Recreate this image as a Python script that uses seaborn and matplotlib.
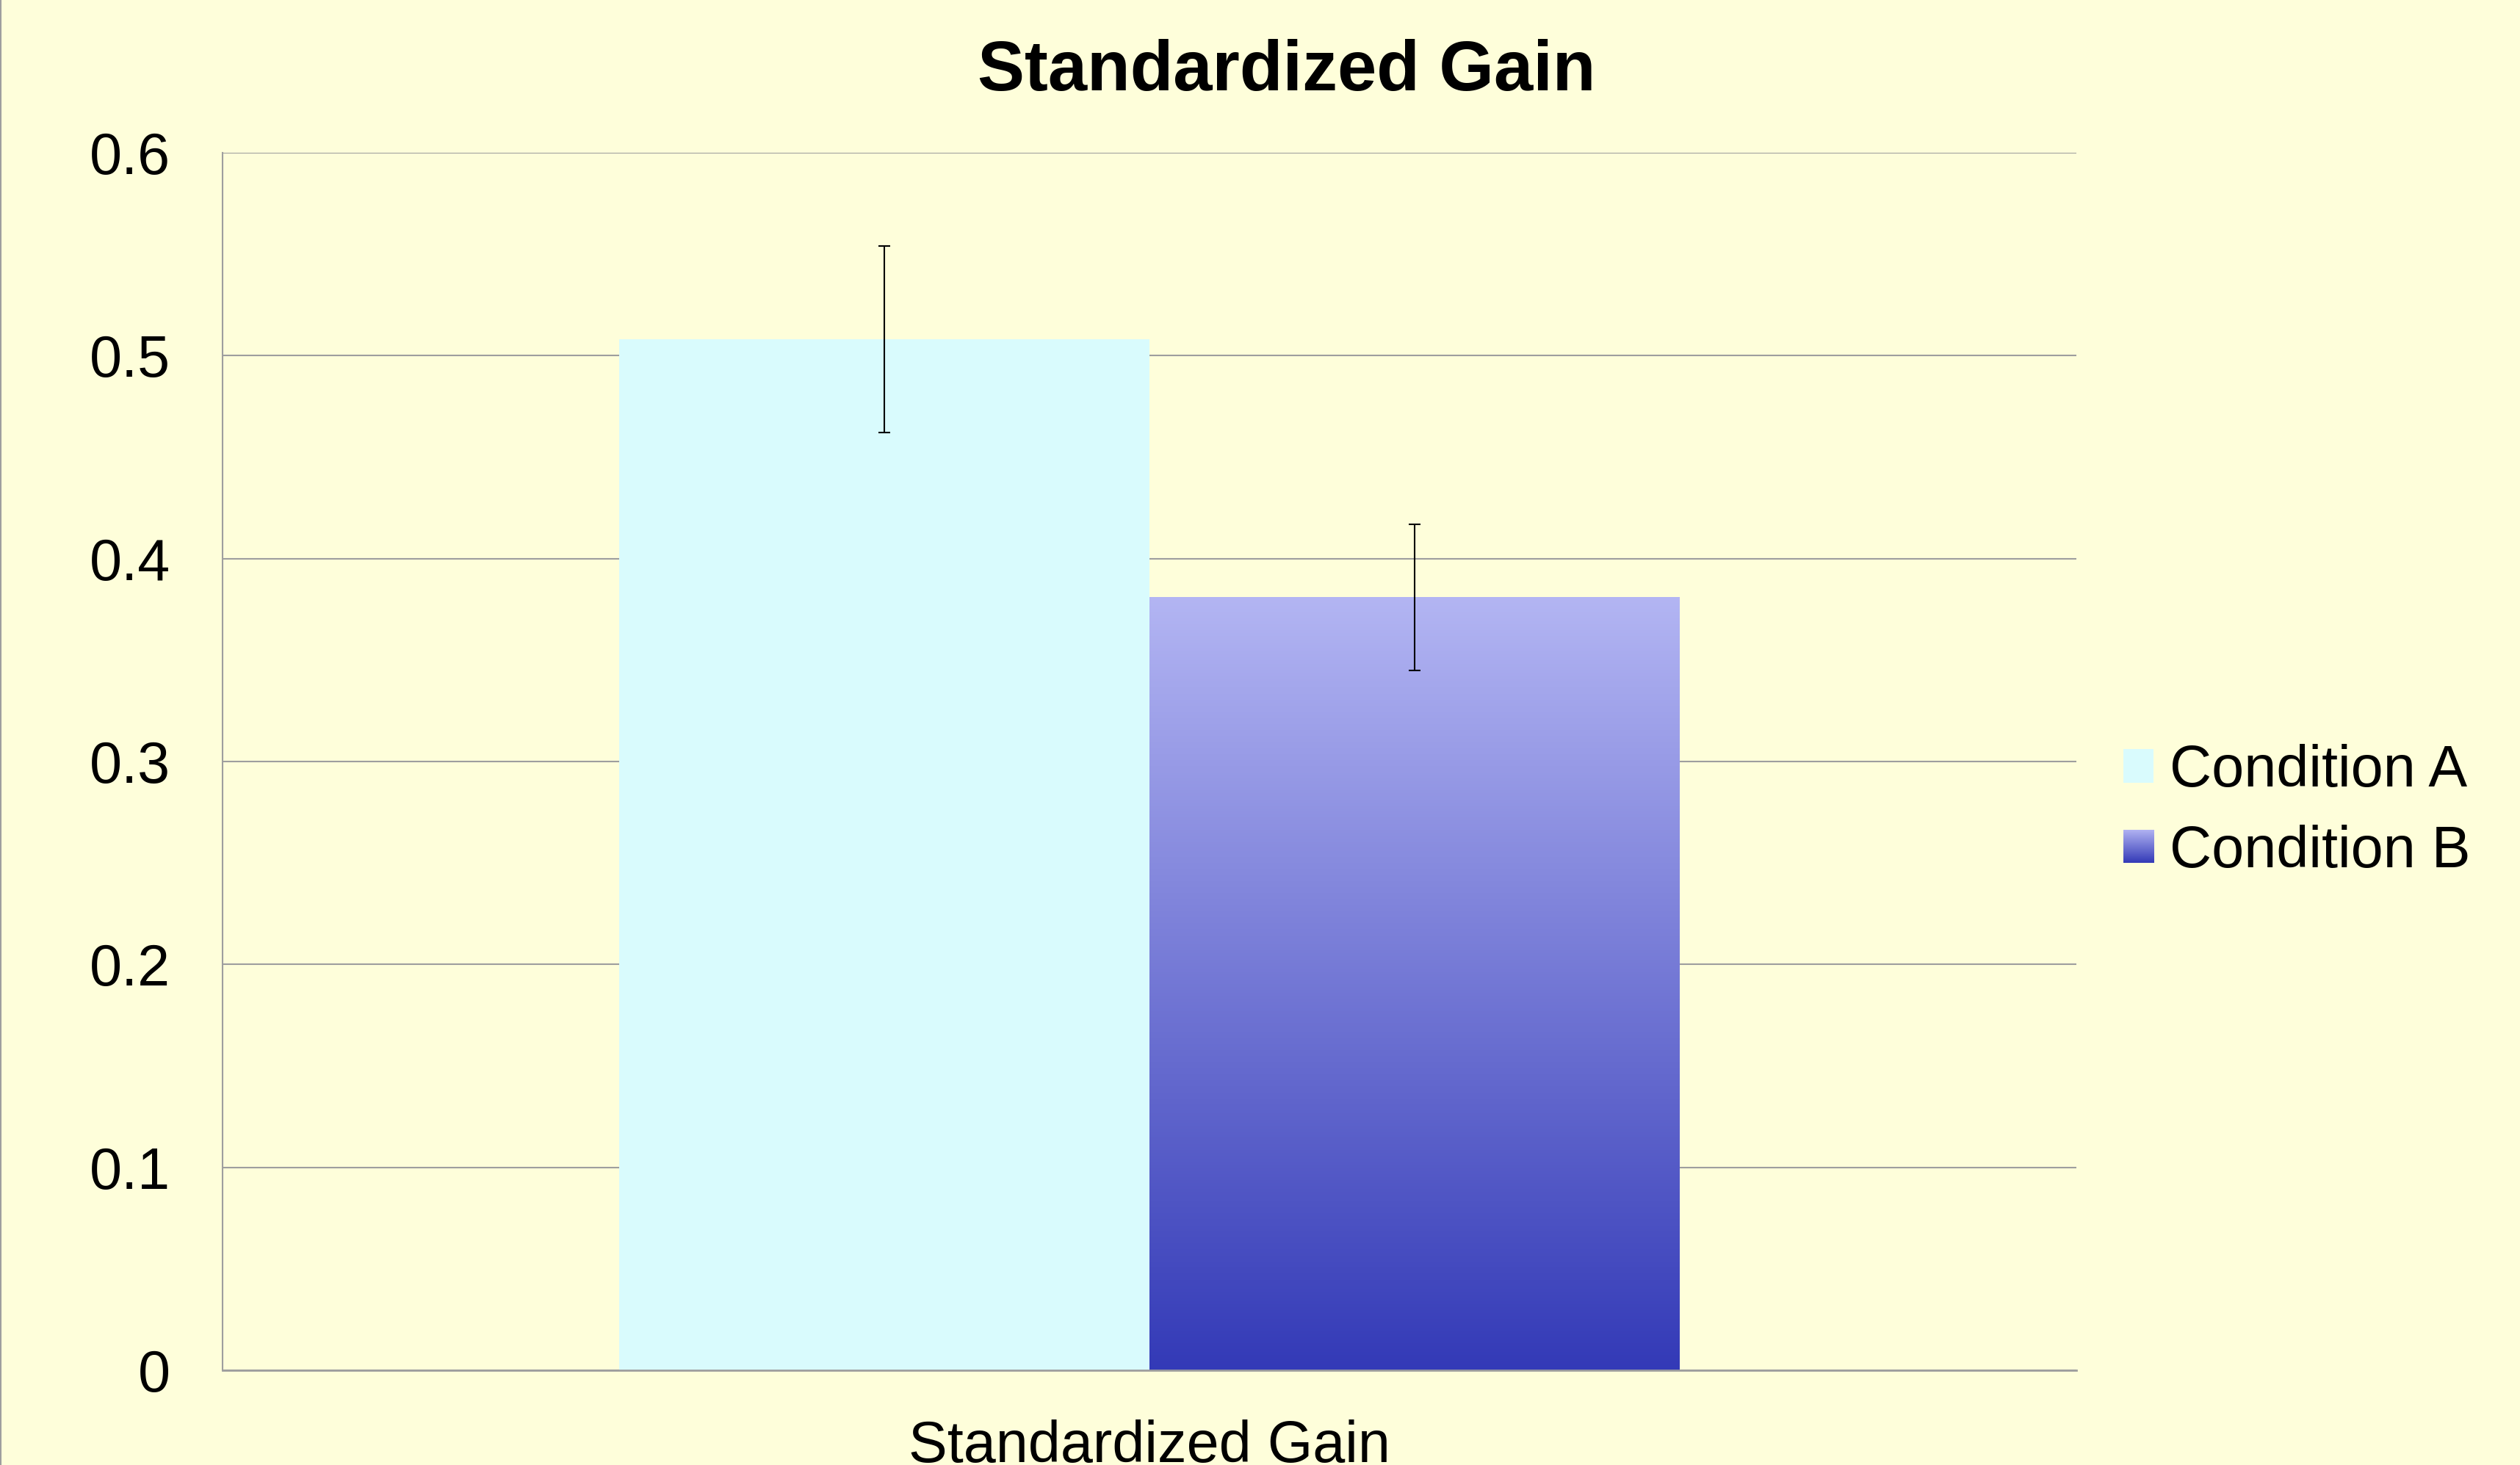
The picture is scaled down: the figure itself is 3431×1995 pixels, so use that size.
import numpy as np
import pandas as pd
import matplotlib
matplotlib.use("Agg")
import matplotlib.pyplot as plt
import seaborn as sns
from matplotlib.colors import LinearSegmentedColormap
from matplotlib.patches import Patch
from matplotlib.lines import Line2D

# -------------------------
# Data
# -------------------------
conditions = ["Condition A", "Condition B"]
measure = ["Standardized Gain", "Standardized Gain"]
gain = [0.508, 0.381]
gain_err = [0.046, 0.036]
y_ticks = [0, 0.1, 0.2, 0.3, 0.4, 0.5, 0.6]
y_tick_labels = ["0", "0.1", "0.2", "0.3", "0.4", "0.5", "0.6"]

# -------------------------
# Style
# -------------------------
bg = "#FEFEDA"
grid_col = "#9E9E9E"
col_a = "#D9FBFD"
grad_cmap = LinearSegmentedColormap.from_list("cond_b", ["#333AB7", "#B3B5F3"])

sns.set_theme(style="white")
plt.rcParams['font.family'] = ['Liberation Sans', 'DejaVu Sans']
plt.rcParams['text.color'] = 'black'

df = pd.DataFrame({"measure": measure, "condition": conditions, "gain": gain})

fig = plt.figure(figsize=(34.31, 19.95), dpi=100, facecolor=bg)
ax = fig.add_axes([0.0883, 0.0647, 0.7357, 0.831])
ax.set_facecolor(bg)

sns.barplot(data=df, x="measure", y="gain", hue="condition",
            palette=[col_a, "#7F83D9"], width=0.572, saturation=1,
            errorbar=None, legend=False, ax=ax)

bars = ax.patches[:2]
for p in bars:
    p.set_edgecolor("none")

# gradient fill for condition B
pb = bars[1]
x0, w, h = pb.get_x(), pb.get_width(), pb.get_height()
grad = np.linspace(0, 1, 256).reshape(-1, 1)
ax.imshow(grad, cmap=grad_cmap, extent=[x0, x0 + w, 0, h], origin="lower",
          aspect="auto", zorder=pb.get_zorder() + 0.1, clip_path=pb)
pb.set_facecolor("none")

# error bars
xs = [p.get_x() + p.get_width() / 2 for p in bars]
ax.errorbar(xs, gain, yerr=gain_err, fmt="none", ecolor="black",
            elinewidth=1.5, capsize=6, capthick=1.5, zorder=5)

ax.set_xlim(-0.5, 0.5)
ax.set_ylim(0, 0.6)
ax.set_yticks(y_ticks)
ax.set_yticklabels(y_tick_labels)
ax.set_xlabel("")
ax.set_ylabel("")

ax.yaxis.grid(True, color=grid_col, lw=1.5)
ax.set_axisbelow(True)
for s in ["top", "right"]:
    ax.spines[s].set_visible(False)
ax.spines["left"].set_color(grid_col)
ax.spines["left"].set_linewidth(1.5)
ax.spines["bottom"].set_color(grid_col)
ax.spines["bottom"].set_linewidth(2.0)
ax.tick_params(axis="y", length=0, pad=51, labelsize=57, labelcolor="black")
ax.tick_params(axis="x", length=0, pad=48, labelsize=57, labelcolor="black")

# title
fig.text(0.5106, 0.9383, "Standardized Gain", ha="center", va="baseline",
         fontsize=69, fontweight="bold", color="black")

# legend
handles = [Patch(facecolor=col_a, edgecolor="none"),
           Patch(facecolor="#7F83D9", edgecolor="none")]
leg = fig.legend(handles, conditions, loc="center left",
                 bbox_to_anchor=(2891 / 3431, 0.446), frameon=False,
                 fontsize=57, handlelength=0.52, handleheight=0.51,
                 handletextpad=0.27, labelspacing=0.44,
                 borderpad=0, borderaxespad=0, labelcolor="black")

fig.canvas.draw()
sw = leg.legend_handles[1].get_window_extent().transformed(fig.transFigure.inverted())
sax = fig.add_axes([sw.x0, sw.y0, sw.width, sw.height])
sax.imshow(grad, cmap=grad_cmap, origin="lower", aspect="auto")
sax.axis("off")
leg.legend_handles[1].set_visible(False)

# thin border on the left edge
fig.add_artist(Line2D([0.0004, 0.0004], [0, 1], transform=fig.transFigure,
                      color=grid_col, lw=1.5))

fig.savefig("out.png", dpi=100, facecolor=bg)
